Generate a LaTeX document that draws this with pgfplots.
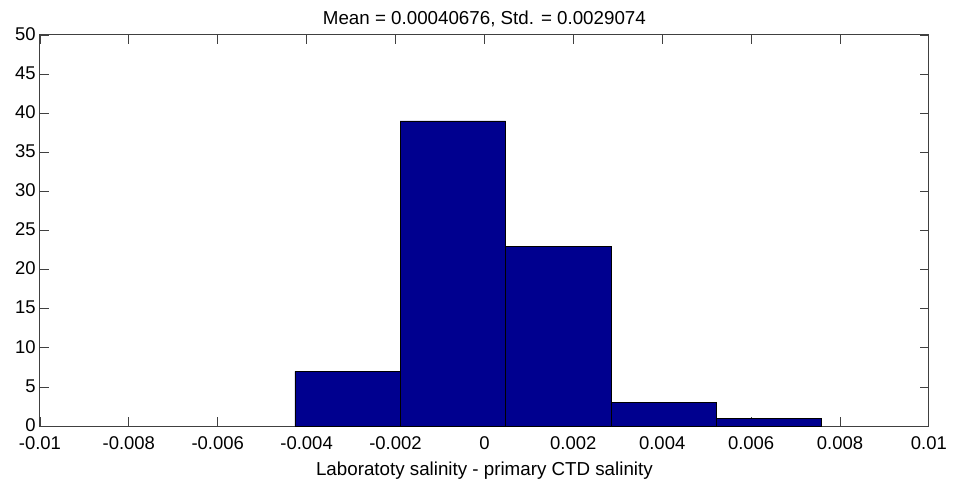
\documentclass[border=0pt]{standalone}
\usepackage{pgfplots}
\pgfplotsset{compat=1.18}
\usepackage{fontspec}
\setmainfont{Liberation Sans}
\definecolor{barblue}{rgb}{0,0,0.5625}
\begin{document}
\fontsize{18.5}{22}\selectfont
\begin{tikzpicture}
\begin{axis}[
  scale only axis,
  width=891pt, height=392pt,
  xmin=-0.01, xmax=0.01, ymin=0, ymax=50,
  scaled x ticks=false,
  xtick={-0.01,-0.008,-0.006,-0.004,-0.002,0,0.002,0.004,0.006,0.008,0.01},
  xticklabels={-0.01,-0.008,-0.006,-0.004,-0.002,0,0.002,0.004,0.006,0.008,0.01},
  ytick={0,5,...,50},
  /pgf/number format/assume math mode=true,
  tick align=inside,
  major tick length=9pt,
  tick style={black!75, line width=0.8pt},
  axis line style={black!75, line width=1pt},
  xticklabel style={font=\fontsize{18.5}{22}\selectfont, yshift=-4pt},
  yticklabel style={font=\fontsize{18.5}{22}\selectfont, xshift=2pt, yshift=1pt},
  title={Mean = 0.00040676, Std. = 0.0029074},
  title style={font=\fontsize{18.8}{22}\selectfont, yshift=-4pt},
  xlabel={Laboratoty salinity - primary CTD salinity},
  xlabel style={font=\fontsize{18.8}{22}\selectfont, yshift=0pt},
  axis on top=false,
]
\addplot[ybar interval, fill=barblue, draw=black, line width=0.6pt]
  coordinates {(-0.004263,7) (-0.001894,39) (0.000475,23) (0.002844,3) (0.005213,1) (0.007582,1)};
\end{axis}
\path (current axis.south west) ++(-40pt,-57pt) coordinate (bbA);
\path (current axis.north east) ++(22pt,35pt) coordinate (bbB);
\useasboundingbox (bbA) rectangle (bbB);
\end{tikzpicture}
\end{document}
